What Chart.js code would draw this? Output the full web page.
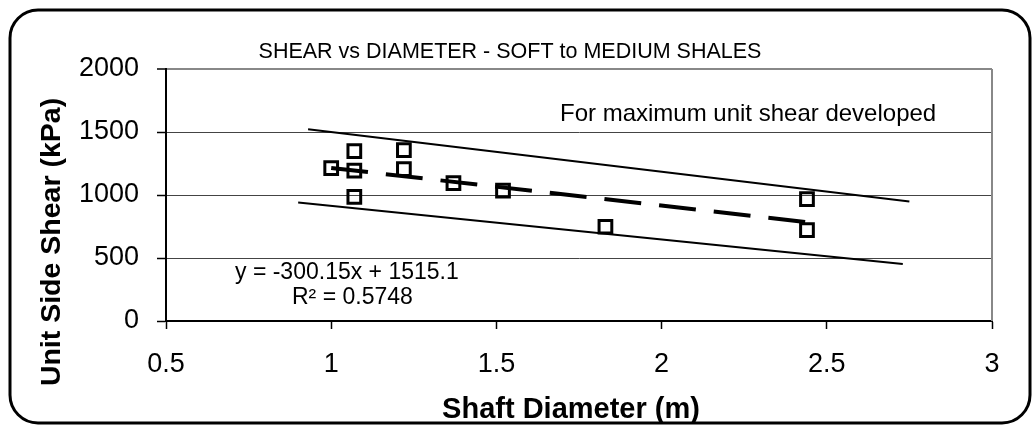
<!DOCTYPE html>
<html>
<head>
<meta charset="utf-8">
<script src="https://cdn.jsdelivr.net/npm/chart.js@4.4.1/dist/chart.umd.min.js"></script>
<style>
    html, body { margin: 0; padding: 0; background: #fff; }
    #wrap { position: relative; width: 1034px; height: 426px; }
</style>
</head>
<body>
<div id="wrap"><canvas id="shearChart" width="1034" height="426"></canvas></div>
<script>
// Measured unit side shear vs shaft diameter
var diameters = [1.0, 1.07, 1.07, 1.07, 1.22, 1.22, 1.37, 1.52, 1.83, 2.44, 2.44];
var unitShear = [1214, 1348, 1193, 986, 1356, 1206, 1095, 1034, 748, 968, 722];

// Linear trend line (as drawn in the figure)
var trendX = [1.0, 2.44];
var trendY = [1215, 784];

// Upper and lower bound lines
var upperX = [0.93, 2.75];
var upperY = [1522, 948];
var lowerX = [0.9, 2.73];
var lowerY = [940, 452];

// Axis ticks
var xTickValues = [0.5, 1, 1.5, 2, 2.5, 3];
var xTickLabels = ['0.5', '1', '1.5', '2', '2.5', '3'];
var yTickValues = [0, 500, 1000, 1500, 2000];
var yTickLabels = ['0', '500', '1000', '1500', '2000'];

var FONT = '"Liberation Sans", Arial, sans-serif';

function pairs(xs, ys) {
    return xs.map(function (x, i) { return { x: x, y: ys[i] }; });
}

// Frame, title and text annotations
var decorations = {
    id: 'decorations',
    beforeDraw: function (chart) {
        var ctx = chart.ctx;
        ctx.save();
        ctx.fillStyle = '#fff';
        ctx.fillRect(0, 0, chart.width, chart.height);
        ctx.restore();
    },
    afterDraw: function (chart) {
        var ctx = chart.ctx, area = chart.chartArea;
        ctx.save();

        // right edge of the plot area
        ctx.strokeStyle = '#888';
        ctx.lineWidth = 2;
        ctx.beginPath();
        ctx.moveTo(area.right, area.top);
        ctx.lineTo(area.right, area.bottom);
        ctx.stroke();

        // rounded outer frame
        ctx.strokeStyle = '#000';
        ctx.lineWidth = 3;
        ctx.beginPath();
        ctx.roundRect(10, 10, 1020, 413, 28);
        ctx.stroke();

        ctx.fillStyle = '#000';
        ctx.textBaseline = 'alphabetic';

        // chart title
        ctx.font = '21.5px ' + FONT;
        ctx.textAlign = 'center';
        ctx.fillText('SHEAR vs DIAMETER - SOFT to MEDIUM SHALES', 510, 58);

        // note
        ctx.font = '24px ' + FONT;
        ctx.textAlign = 'left';
        ctx.fillText('For maximum unit shear developed', 560, 121);

        // trend equation
        ctx.font = '23px ' + FONT;
        ctx.fillText('y = -300.15x + 1515.1', 235, 279);
        ctx.fillText('R\u00b2 = 0.5748', 292, 304);

        // axis titles
        ctx.font = 'bold 29px ' + FONT;
        ctx.textAlign = 'center';
        ctx.fillText('Shaft Diameter (m)', 571, 418);

        ctx.font = 'bold 28.5px ' + FONT;
        ctx.translate(52, 242);
        ctx.rotate(-Math.PI / 2);
        ctx.textBaseline = 'middle';
        ctx.fillText('Unit Side Shear (kPa)', 0, 0);

        ctx.restore();
    }
};

var ctx = document.getElementById('shearChart').getContext('2d');
var shearChart = new Chart(ctx, {
    type: 'scatter',
    data: {
        datasets: [{
            label: 'Measured',
            data: pairs(diameters, unitShear),
            pointStyle: 'rect',
            pointRadius: 9,
            pointBorderWidth: 3,
            borderColor: '#000',
            backgroundColor: 'rgba(0,0,0,0)'
        }, {
            label: 'Linear',
            data: pairs(trendX, trendY),
            showLine: true,
            borderColor: '#000',
            borderWidth: 4,
            borderDash: [37, 18],
            pointRadius: 0
        }, {
            label: 'Upper',
            data: pairs(upperX, upperY),
            showLine: true,
            borderColor: '#000',
            borderWidth: 2,
            pointRadius: 0
        }, {
            label: 'Lower',
            data: pairs(lowerX, lowerY),
            showLine: true,
            borderColor: '#000',
            borderWidth: 2,
            pointRadius: 0
        }]
    },
    options: {
        responsive: false,
        animation: false,
        devicePixelRatio: 1,
        layout: { padding: { left: 0, top: 69, right: 42, bottom: 0 } },
        plugins: {
            legend: { display: false },
            tooltip: { enabled: false }
        },
        scales: {
            x: {
                type: 'linear',
                min: 0.5,
                max: 3,
                afterBuildTicks: function (scale) {
                    scale.ticks = xTickValues.map(function (v) { return { value: v }; });
                },
                afterFit: function (scale) { scale.height = 105; },
                grid: { drawOnChartArea: false, tickLength: 8, tickColor: '#000', tickWidth: 1.5 },
                border: { color: '#000', width: 2 },
                ticks: {
                    color: '#000',
                    font: { family: FONT, size: 27 },
                    padding: 19,
                    maxRotation: 0,
                    autoSkip: false,
                    callback: function (v, i) { return xTickLabels[i]; }
                }
            },
            y: {
                type: 'linear',
                min: 0,
                max: 2000,
                afterBuildTicks: function (scale) {
                    scale.ticks = yTickValues.map(function (v) { return { value: v }; });
                },
                afterFit: function (scale) { scale.width = 166; },
                grid: {
                    color: function (c) { return c.tick && c.tick.value === 2000 ? '#888' : '#444'; },
                    lineWidth: function (c) { return c.tick && c.tick.value === 2000 ? 2 : 1; },
                    tickLength: 9,
                    tickColor: '#000',
                    tickWidth: 1.5
                },
                border: { color: '#000', width: 2 },
                ticks: {
                    color: '#000',
                    font: { family: FONT, size: 27 },
                    padding: 18,
                    autoSkip: false,
                    callback: function (v, i) { return yTickLabels[i]; }
                }
            }
        }
    },
    plugins: [decorations]
});
</script>
</body>
</html>
